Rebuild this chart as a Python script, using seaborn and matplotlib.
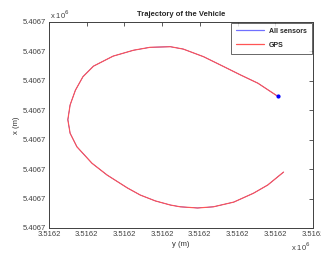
import pandas as pd
import matplotlib
matplotlib.use("Agg")
import matplotlib.pyplot as plt
import seaborn as sns
from matplotlib.ticker import FuncFormatter
from matplotlib.lines import Line2D

# trajectory (easting = "y", northing = "x"), metres
east = [3516235.3, 3516232.7, 3516230.4, 3516228.2, 3516225.5, 3516222.8, 3516221.1,
        3516218.4, 3516216.2, 3516213.5, 3516210.9, 3516209.5, 3516208.5, 3516207.8,
        3516207.5, 3516207.8, 3516208.7, 3516210.7, 3516212.7, 3516215.4, 3516217.1,
        3516219.1, 3516221.1, 3516222.4, 3516224.7, 3516226.8, 3516229.5, 3516232.1,
        3516234.0, 3516236.1]
north = [5406727.4, 5406729.6, 5406731.0, 5406732.4, 5406734.1, 5406735.4, 5406735.8,
         5406735.7, 5406735.2, 5406734.2, 5406732.5, 5406730.7, 5406728.4, 5406725.9,
         5406723.4, 5406721.1, 5406718.8, 5406716.0, 5406714.0, 5406711.8, 5406710.6,
         5406709.6, 5406708.9, 5406708.6, 5406708.4, 5406708.6, 5406709.4, 5406710.9,
         5406712.3, 5406714.5]

xticks = [3516205 + 5 * i for i in range(8)]
yticks = [5406705 + 5 * i for i in range(8)]

df = pd.DataFrame({"east": east, "north": north})

sns.set_theme(style="white")
plt.rcParams["font.family"] = ["Liberation Sans", "DejaVu Sans"]

fig = plt.figure(figsize=(3.21, 2.54), dpi=100)
ax = fig.add_axes([0.1526, 0.1024, 0.8224, 0.811])

sns.lineplot(x="east", y="north", data=df, sort=False, estimator=None, color="blue",
             lw=0.4, legend=False, ax=ax)
sns.lineplot(x="east", y="north", data=df, sort=False, estimator=None, color="#ff5555",
             lw=0.85, legend=False, ax=ax)
ax.plot(east[0], north[0], "o", color="blue", ms=2)

ax.set_xlim(xticks[0], xticks[-1])
ax.set_ylim(yticks[0], yticks[-1])
ax.set_xticks(xticks)
ax.set_yticks(yticks)
fmt = FuncFormatter(lambda v, p: f"{v / 1e6:.4f}")
ax.xaxis.set_major_formatter(fmt)
ax.yaxis.set_major_formatter(fmt)
ax.tick_params(direction="in", length=3, width=0.6, top=True, right=True,
               labelsize=5.5, labelcolor="#404040", pad=2, color="#404040")
for s in ax.spines.values():
    s.set_color("#404040")
    s.set_linewidth(0.7)

ax.set_title("Trajectory of the Vehicle", fontsize=5.5, fontweight="bold", pad=4)
ax.set_xlabel("y (m)", fontsize=5.5, labelpad=2, color="#303030")
ax.set_ylabel("x (m)", fontsize=5.5, labelpad=2, color="#303030")

fig.text(0.155, 0.925, "x 10$^{6}$", fontsize=5.5, color="#404040")
fig.text(0.905, 0.012, "x 10$^{6}$", fontsize=5.5, color="#404040")

handles = [Line2D([], [], color="#7070ff", lw=0.9), Line2D([], [], color="#ff5555", lw=0.9)]
leg = ax.legend(handles, ["All sensors", "GPS"], loc="upper right", frameon=True,
                fancybox=False, borderaxespad=0.15, handlelength=4, borderpad=0.7,
                labelspacing=1.0, prop={"weight": "bold", "size": 5})
leg.get_frame().set_edgecolor("#404040")
leg.get_frame().set_linewidth(0.7)

fig.savefig("out.png", dpi=100)
